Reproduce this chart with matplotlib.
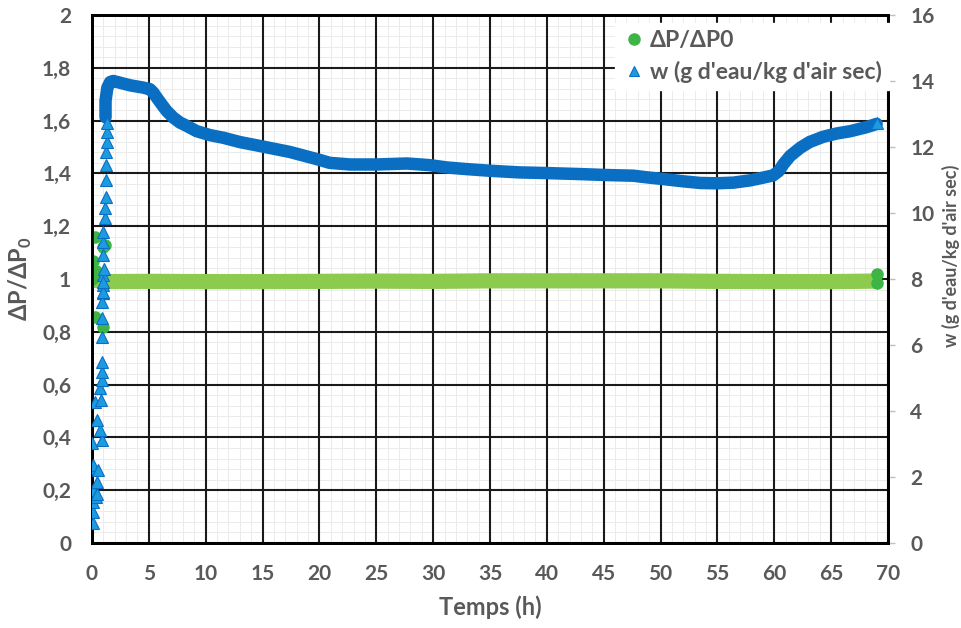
import matplotlib
matplotlib.use("Agg")
import matplotlib.pyplot as plt
from matplotlib.ticker import MultipleLocator, FuncFormatter
from matplotlib.lines import Line2D

# ---------------- data ----------------
# w (g d'eau / kg d'air sec) : dense measured curve (right axis)
w_t = [1.19, 1.19, 1.35, 1.6, 1.87, 3.34, 4.5, 5.1, 5.39, 5.69, 6.13, 6.57,
       7.15, 7.74, 8.33, 9.2, 10.38, 11.55, 13.0, 15.07, 17.4, 19.8, 20.9,
       22.7, 25.0, 27.7, 29.7, 31.2, 32.95, 35.0, 37.6, 40.0, 42.9, 45.3,
       47.6, 48.8, 50.2, 52.0, 53.5, 54.9, 56.4, 57.9, 59.0, 59.9, 60.4,
       60.8, 61.4, 62.3, 63.1, 64.3, 65.5, 66.7, 68.1, 69.0]
w_val = [12.9, 13.4, 13.8, 13.97, 14.0, 13.87, 13.8, 13.75, 13.65, 13.5,
         13.29, 13.09, 12.89, 12.74, 12.64, 12.48, 12.36, 12.28, 12.15, 12.01,
         11.85, 11.63, 11.52, 11.47, 11.47, 11.5, 11.45, 11.38, 11.33, 11.28,
         11.23, 11.21, 11.18, 11.15, 11.13, 11.08, 11.03, 10.96, 10.91, 10.9,
         10.92, 10.99, 11.07, 11.14, 11.27, 11.48, 11.73, 11.98, 12.15, 12.31,
         12.41, 12.48, 12.6, 12.7]

# w : isolated start-up points (triangles)
w0_t = [0.12, 0.12, 0.12, 0.35, 0.12, 0.47, 0.47, 0.12, 0.12, 0.56, 0.0, 0.85,
        0.7, 0.41, 0.26, 0.76, 0.7, 0.85, 0.85, 0.85, 0.85, 0.85, 0.94, 0.94,
        0.94, 0.94, 1.0, 1.0, 1.14, 1.14, 1.23, 1.23, 1.23, 1.23, 1.29, 1.29,
        1.29, 0.9, 0.95, 1.0, 1.05, 69.0]
w0_val = [0.60, 0.95, 1.25, 1.40, 1.60, 1.50, 1.86, 2.26, 2.36, 2.21, 3.02,
          3.12, 3.42, 3.73, 4.28, 4.33, 4.69, 4.94, 5.19, 5.49, 6.25, 6.81,
          7.57, 7.82, 8.12, 8.73, 9.13, 9.43, 9.84, 10.14, 10.49, 11.0, 11.45,
          11.86, 12.16, 12.46, 12.72, 7.3, 7.6, 7.9, 8.3, 12.72]

# Delta P / Delta P0 : dense band (left axis)
dp_t = [0.3, 1.0, 5.0, 10.0, 15.0, 20.0, 25.0, 30.0, 35.0, 40.0, 45.0, 50.0,
        55.0, 60.0, 65.0, 68.8]
dp_val = [0.995, 0.99, 0.991, 0.99, 0.99, 0.991, 0.992, 0.991, 0.993, 0.993,
          0.993, 0.993, 0.991, 0.99, 0.99, 0.992]

# Delta P / Delta P0 : isolated points (circles)
dp0_t = [0.26, 0.12, 0.35, 0.0, 0.94, 1.14, 0.26, 1.0, 69.0, 69.0]
dp0_val = [1.16, 1.07, 1.03, 1.00, 1.12, 1.13, 0.857, 0.82, 1.02, 0.986]

x_ticks = list(range(0, 75, 5))
y_left_ticks = [0, 0.2, 0.4, 0.6, 0.8, 1.0, 1.2, 1.4, 1.6, 1.8, 2.0]
y_right_ticks = list(range(0, 18, 2))

# ---------------- style ----------------
FONT = "Lato"
GREY = "#595959"
plt.rcParams["font.family"] = [FONT, "DejaVu Sans"]
plt.rcParams["font.weight"] = "bold"
plt.rcParams["mathtext.fontset"] = "custom"
plt.rcParams["mathtext.bf"] = "Lato:bold"
plt.rcParams["mathtext.rm"] = "Lato:bold"

fig = plt.figure(figsize=(9.61, 6.28), dpi=100)
ax = fig.add_axes([92/961, 1-543/628, (888-92)/961, (543-15)/628])
ax2 = ax.twinx()

ax.set_xlim(0, 70)
ax.set_ylim(0, 2)
ax.set_xticks(x_ticks)
ax.set_yticks(y_left_ticks)
ax.xaxis.set_minor_locator(MultipleLocator(1))
ax.yaxis.set_minor_locator(MultipleLocator(0.04))
ax.grid(which="minor", color="#EBEBEB", linewidth=0.7)
ax.grid(which="major", visible=False)
ax.set_axisbelow(True)
# major grid drawn above the faint minor grid
for xv in x_ticks:
    ax.axvline(xv, color="#1a1a1a", linewidth=1.5, zorder=1)
for yv in y_left_ticks:
    ax.axhline(yv, color="#1a1a1a", linewidth=1.5, zorder=1)

# delta P band
ax.plot(dp_t, dp_val, color="#8DCB4E", linewidth=11, solid_capstyle="round",
        solid_joinstyle="round", zorder=3)
ax.plot(dp0_t, dp0_val, linestyle="none", marker="o", markersize=8,
        markerfacecolor="#3DB545", markeredgecolor="#3DB545", zorder=4)

# w curve
ax2.set_ylim(0, 16)
ax2.set_yticks(y_right_ticks)
ax2.plot(w_t, w_val, color="#0A6FC2", linewidth=9, solid_capstyle="round",
         solid_joinstyle="round", zorder=3)
ax2.plot(w0_t, w0_val, linestyle="none", marker="^", markersize=8,
         markerfacecolor="#1C9BE0", markeredgecolor="#0A6FC2",
         markeredgewidth=0.8, zorder=4)

# spines
for a in (ax, ax2):
    for s in a.spines.values():
        s.set_color("black")
        s.set_linewidth(2)

# ticks
ax.tick_params(axis="both", which="both", length=0, colors=GREY)
ax.tick_params(axis="x", pad=15)
ax.tick_params(axis="y", pad=15)
ax.yaxis.set_major_formatter(FuncFormatter(
    lambda v, p: ("%g" % round(v, 2)).replace(".", ",")))
ax2.tick_params(axis="y", which="both", length=5, width=1, color="#BFBFBF",
                colors=GREY, pad=11)
for lab in ax.get_xticklabels() + ax.get_yticklabels() + ax2.get_yticklabels():
    lab.set_fontsize(15)
    lab.set_fontweight("bold")
    lab.set_color(GREY)

ax.set_xlabel("Temps (h)", fontsize=17, fontweight="bold", color=GREY)
ax.xaxis.set_label_coords(0.5, -(607-543)/528)
ax.xaxis.label.set_va("center")

ax.set_ylabel(r"ΔP/ΔP$_\mathbf{0}$", fontsize=17, fontweight="bold", color=GREY)
ax.yaxis.set_label_coords((20-92)/796, 0.5)
ax.yaxis.label.set_va("center")
ax.yaxis.label.set_ha("center")

ax2.set_ylabel("w (g d'eau/kg d'air sec)", fontsize=13, fontweight="bold",
               color=GREY)
ax2.yaxis.set_label_coords((951-92)/796, (543-256)/528)
ax2.yaxis.label.set_va("center")
ax2.yaxis.label.set_ha("center")

# legend
handles = [
    Line2D([], [], linestyle="none", marker="o", markersize=8,
           markerfacecolor="#3DB545", markeredgecolor="#3DB545"),
    Line2D([], [], linestyle="none", marker="^", markersize=7,
           markerfacecolor="#1C9BE0", markeredgecolor="#0A6FC2",
           markeredgewidth=0.8),
]
leg = ax2.legend(handles, ["ΔP/ΔP0", "w (g d'eau/kg d'air sec)"],
                 loc="upper left", bbox_to_anchor=(604/961, 1-12/628),
                 bbox_transform=fig.transFigure, frameon=True, fancybox=False,
                 framealpha=1, edgecolor="white", facecolor="white",
                 prop=dict(family=[FONT, "DejaVu Sans"], weight="bold",
                           size=16.5),
                 handletextpad=0.2, handlelength=1.0, labelspacing=0.42,
                 borderpad=0.3)
for t in leg.get_texts():
    t.set_color(GREY)

fig.savefig("out.png", dpi=100)
